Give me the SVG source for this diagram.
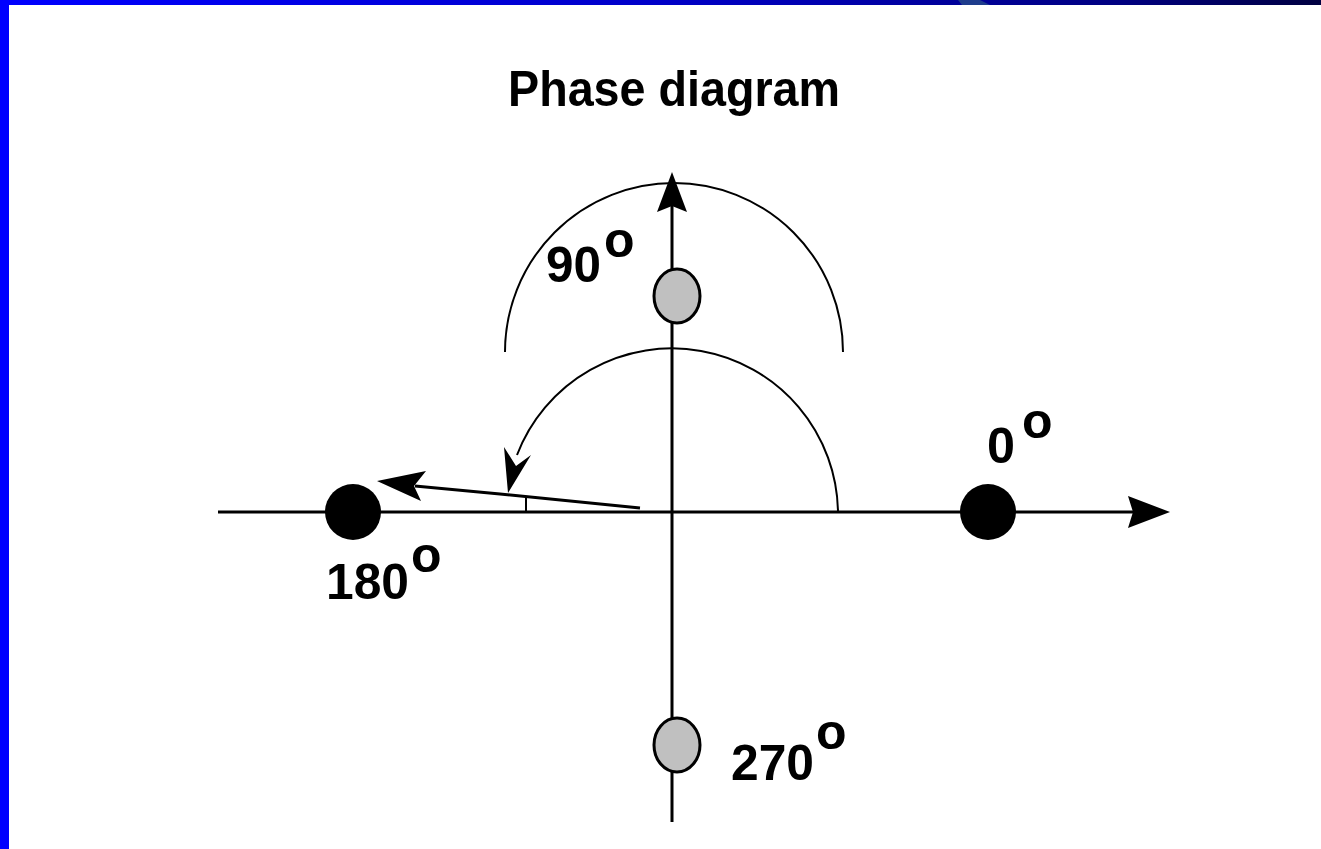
<svg xmlns="http://www.w3.org/2000/svg" width="1321" height="849" viewBox="0 0 1321 849">
<defs>
<linearGradient id="bar" x1="0" y1="0" x2="1" y2="0">
<stop offset="0" stop-color="#0000ff"/>
<stop offset="0.5" stop-color="#0000c8"/>
<stop offset="0.85" stop-color="#000080"/>
<stop offset="1" stop-color="#000040"/>
</linearGradient>
<style>
.lbl{font-family:"Liberation Sans",Arial,sans-serif;font-weight:bold;font-size:50px;fill:#000}
.axis{stroke:#000;stroke-width:3;fill:none}
.arc{stroke:#000;stroke-width:2;fill:none}
.head{fill:#000;stroke:none}
.gray{fill:#c0c0c0;stroke:#000;stroke-width:3}
.blk{fill:#000}
</style>
</defs>
<rect x="0" y="0" width="1321" height="849" fill="#fff"/>
<rect x="0" y="0" width="1321" height="5" fill="url(#bar)"/>
<polygon points="958,0 980,0 990,5 962,5" fill="#1e3c8c"/>
<rect x="0" y="0" width="9" height="849" fill="#0000ff"/>

<g id="title"><text class="lbl" x="508" y="106" font-size="48" textLength="332" lengthAdjust="spacingAndGlyphs">Phase diagram</text></g>

<g id="connectors">
<line class="axis" x1="218" y1="512" x2="1135" y2="512"/>
<polygon class="head" points="1170,512 1128,496 1133,512 1128,528"/>
<line class="axis" x1="672" y1="822" x2="672" y2="205"/>
<polygon class="head" points="672,172 657,212 672,206 687,212"/>
<path class="arc" d="M505,352 A169,169 0 0 1 843,352"/>
<path class="arc" d="M838,512 A166,166 0 0 0 517,455"/>
<polygon class="head" points="508,493 504,447 516,466 531,455"/>
<polyline class="axis" points="640,508 500,494 415,486"/>
<polygon class="head" points="377,481 426,471 414,486 421,501"/>
<line class="arc" x1="526" y1="497" x2="526" y2="512"/>
</g>

<g id="node-0"><circle class="blk" cx="988" cy="512" r="28"/></g>
<g id="node-180"><circle class="blk" cx="353" cy="512" r="28"/></g>
<g id="node-90"><ellipse class="gray" cx="677" cy="296" rx="23" ry="27"/></g>
<g id="node-270"><ellipse class="gray" cx="677" cy="745" rx="23" ry="27"/></g>

<g id="label-90"><text class="lbl" x="546" y="282" textLength="55" lengthAdjust="spacingAndGlyphs">90</text><text class="lbl" x="604" y="257">o</text></g>
<g id="label-0"><text class="lbl" x="987" y="463" textLength="28" lengthAdjust="spacingAndGlyphs">0</text><text class="lbl" x="1022" y="438">o</text></g>
<g id="label-180"><text class="lbl" x="326" y="599" textLength="83" lengthAdjust="spacingAndGlyphs">180</text><text class="lbl" x="411" y="572">o</text></g>
<g id="label-270"><text class="lbl" x="731" y="780" textLength="83" lengthAdjust="spacingAndGlyphs">270</text><text class="lbl" x="816" y="749">o</text></g>
</svg>
